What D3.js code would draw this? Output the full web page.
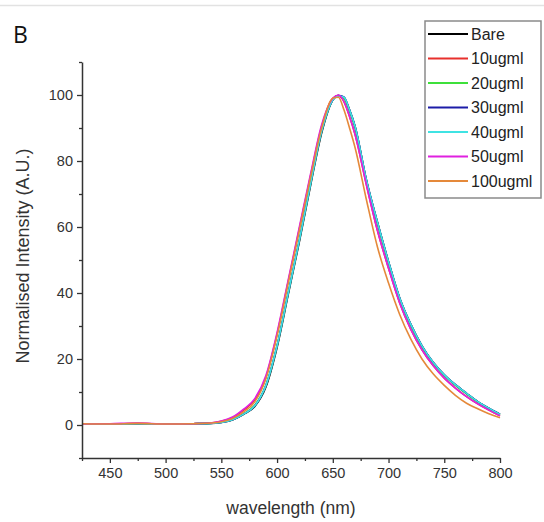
<!DOCTYPE html>
<html>
<head>
<meta charset="utf-8">
<script src="https://cdn.jsdelivr.net/npm/d3@7"></script>
<style>
  body { margin: 0; background: #fff; }
  svg { display: block; font-family: "Liberation Sans", Arial, sans-serif; }
</style>
</head>
<body>
<div id="chart"></div>
<script>
// wavelength grid (nm)
const wavelengths = [425, 450, 475, 500, 525, 540, 550, 560, 570, 580, 590, 600, 610, 620, 630, 640, 650, 655, 660, 665, 670, 680, 690, 700, 710, 720, 730, 740, 750, 760, 770, 780, 790, 800];

// normalised intensities
const bare    = [0.3, 0.3, 0.4, 0.3, 0.4, 0.5, 0.8, 1.5, 3.2, 5.6, 11.5, 23.5, 39.5, 55.5, 72.5, 88.5, 98.5, 99.8, 99.2, 95.5, 90.5, 74.5, 61.5, 49.5, 38.5, 30.5, 24, 19, 15.2, 12.2, 9.6, 7.1, 5.1, 3.2];
const ug10    = [0.4, 0.3, 0.5, 0.3, 0.4, 0.6, 1.1, 2.2, 4.5, 7.6, 14.5, 27.5, 43.5, 59.5, 75.5, 90.5, 99, 99.8, 98, 93.5, 88, 73, 59, 47.5, 37, 29, 22.8, 18, 14.2, 11.2, 8.6, 6.4, 4.5, 2.8];
const ug20    = [0.4, 0.3, 0.4, 0.3, 0.4, 0.5, 0.9, 1.7, 3.4, 6, 12, 24, 40, 56, 73, 89, 98.5, 99.8, 99, 95, 90, 74, 61, 49, 38, 30, 23.5, 18.8, 15, 12, 9.4, 7, 5, 3.1];
const ug30    = [0.3, 0.3, 0.4, 0.3, 0.4, 0.5, 0.8, 1.6, 3.3, 5.8, 12, 24, 40, 56, 73, 89, 98.5, 99.8, 99.4, 95.5, 90.5, 74.5, 61.5, 49.5, 38.5, 30.5, 24, 19, 15.2, 12.2, 9.6, 7.1, 5.1, 3.3];
const ug40    = [0.3, 0.3, 0.4, 0.3, 0.4, 0.5, 0.8, 1.6, 3.3, 5.8, 12, 24, 40, 56, 73, 89, 98.5, 99.7, 99.3, 95.5, 90.5, 74.5, 61.5, 49.5, 38.5, 30.5, 24, 19, 15.2, 12.2, 9.6, 7.1, 5.1, 3.2];
const ug50    = [0.3, 0.4, 0.6, 0.3, 0.4, 0.6, 1.2, 2.4, 4.8, 8, 15, 28, 44, 60, 76, 91, 99, 100, 98, 93.5, 88, 73, 59, 47.5, 37, 29, 22.8, 18, 14.2, 11.2, 8.6, 6.4, 4.5, 2.8];
const ug100   = [0.4, 0.3, 0.5, 0.3, 0.4, 0.6, 1, 2, 4, 7, 14, 27, 43, 59, 75, 90, 99, 99.3, 95.5, 90, 84, 68.5, 54, 43, 33.5, 26, 20, 15.5, 12, 9, 6.6, 4.9, 3.4, 2.2];

const seriesNames = ["Bare", "10ugml", "20ugml", "30ugml", "40ugml", "50ugml", "100ugml"];
const seriesValues = [bare, ug10, ug20, ug30, ug40, ug50, ug100];
const seriesColors = ["#000000", "#e8302c", "#3ee03a", "#1c1ca8", "#3fe3e3", "#e020e0", "#e5893a"];

const xTicks = [450, 500, 550, 600, 650, 700, 750, 800];
const xMinor = [425, 475, 525, 575, 625, 675, 725, 775];
const yTicks = [0, 20, 40, 60, 80, 100];
const yMinor = [-10, 10, 30, 50, 70, 90, 110];

const width = 544, height = 522;

const svg = d3.select("#chart").append("svg")
  .attr("width", width)
  .attr("height", height);

// faint rule at the top of the figure
svg.append("line")
  .attr("x1", 0).attr("x2", width)
  .attr("y1", 5.5).attr("y2", 5.5)
  .attr("stroke", "#e2e2e2")
  .attr("stroke-width", 1.5);

svg.append("text")
  .attr("x", 13).attr("y", 43)
  .attr("font-family", "'Open Sans', sans-serif")
  .attr("font-size", 23)
  .attr("fill", "#111")
  .text("B");

const x = d3.scaleLinear().domain([425, 800]).range([82, 500]);
const y = d3.scaleLinear().domain([-10, 110]).range([458, 62]);

// curves
const line = d3.line()
  .x((d, i) => x(wavelengths[i]))
  .y(d => y(d))
  .curve(d3.curveMonotoneX);

svg.append("g")
  .selectAll("path")
  .data(seriesValues)
  .join("path")
  .attr("d", d => line(d))
  .attr("fill", "none")
  .attr("stroke", (d, i) => seriesColors[i])
  .attr("stroke-width", 1.6);

// axes
svg.append("g")
  .attr("transform", `translate(0,${y(-10)})`)
  .call(d3.axisBottom(x).tickValues(xTicks).tickSize(5).tickPadding(5).tickSizeOuter(0));
svg.append("g")
  .attr("transform", `translate(0,${y(-10)})`)
  .call(d3.axisBottom(x).tickValues(xMinor).tickSize(3).tickFormat("").tickSizeOuter(0))
  .select(".domain").remove();

svg.append("g")
  .attr("transform", `translate(${x(425)},0)`)
  .call(d3.axisLeft(y).tickValues(yTicks).tickSize(5).tickPadding(4).tickSizeOuter(0));
svg.append("g")
  .attr("transform", `translate(${x(425)},0)`)
  .call(d3.axisLeft(y).tickValues(yMinor).tickSize(3).tickFormat("").tickSizeOuter(0))
  .select(".domain").remove();

svg.selectAll(".domain").attr("stroke", "#333").attr("stroke-width", 1.5);
svg.selectAll(".tick line").attr("stroke", "#333").attr("stroke-width", 1.3);
svg.selectAll(".tick text")
  .attr("font-family", "'Liberation Sans', Arial, sans-serif")
  .attr("font-size", 14.5)
  .attr("fill", "#333");

// axis titles
svg.append("text")
  .attr("x", 291).attr("y", 514)
  .attr("text-anchor", "middle")
  .attr("font-size", 17.5)
  .attr("fill", "#333")
  .text("wavelength (nm)");

svg.append("text")
  .attr("transform", "translate(29,256) rotate(-90)")
  .attr("text-anchor", "middle")
  .attr("font-size", 18)
  .attr("fill", "#333")
  .text("Normalised Intensity (A.U.)");

// legend
const legend = svg.append("g");
legend.append("rect")
  .attr("x", 425).attr("y", 21)
  .attr("width", 116).attr("height", 177)
  .attr("fill", "#fff")
  .attr("stroke", "#8a8a8a")
  .attr("stroke-width", 1.5);

const rows = legend.selectAll("g.row")
  .data(seriesNames)
  .join("g")
  .attr("class", "row")
  .attr("transform", (d, i) => `translate(0,${34 + i * 24.5})`);

rows.append("line")
  .attr("x1", 428).attr("x2", 468)
  .attr("stroke", (d, i) => seriesColors[i])
  .attr("stroke-width", 1.8);

rows.append("text")
  .attr("x", 471).attr("y", 0)
  .attr("dy", "0.36em")
  .attr("font-size", 16)
  .attr("fill", "#222")
  .text(d => d);
</script>
</body>
</html>
